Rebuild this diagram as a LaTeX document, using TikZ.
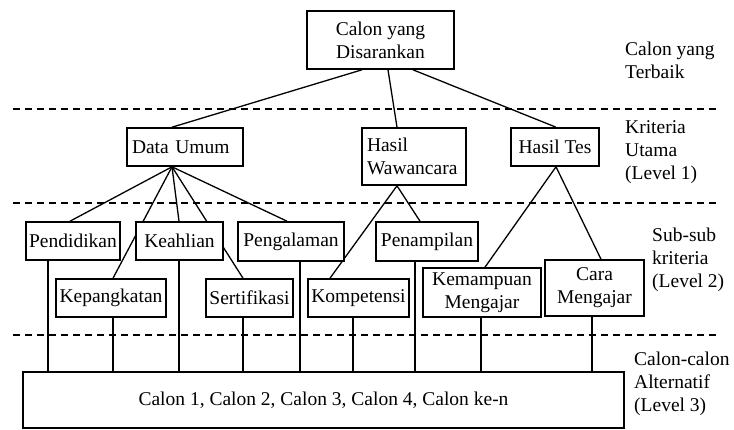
\documentclass[tikz,border=0pt]{standalone}
\usepackage{fontspec}
\setmainfont{Liberation Serif}
\usepackage{tikz}
\usetikzlibrary{positioning,backgrounds}

\begin{document}
\begin{tikzpicture}[x=1pt, y=-1pt,
	kotak/.style={draw, fill=white, line width=1.6pt, inner sep=0pt,
		font=\fontsize{19.5pt}{23pt}\selectfont},
	garis/.style={line width=1.3pt},
	batas/.style={line width=1.3pt, dash pattern=on 7pt off 5pt},
	keterangan/.style={anchor=west, align=left, inner sep=0pt,
		font=\fontsize{19.5pt}{23pt}\selectfont}
]
\useasboundingbox (0,0) rectangle (734,429);

% Calon yang disarankan
\node [kotak,
	minimum width=147pt,
	minimum height=58pt,
	align=center
]  (calon_disarankan) at (380.5,40) {Calon yang\\Disarankan};

% Kriteria utama
\node [kotak,
	text width=106pt,
	inner xsep=5pt,
	minimum height=38pt,
	align=left
]  (data_umum) at (185,147) {Data Umum};
\node [kotak,
	text width=94pt,
	inner xsep=5pt,
	minimum height=57pt,
	align=left
]  (hasil_wawancara) at (414,156.5) {Hasil\\Wawancara};
\node [kotak,
	minimum width=88pt,
	minimum height=38pt,
	align=center
]  (hasil_tes) at (555,147) {Hasil Tes};

% Sub-sub kriteria
\node [kotak,
	minimum width=94pt,
	minimum height=38pt
]  (pendidikan) at (73,241) {Pendidikan};
\node [kotak,
	minimum width=87pt,
	minimum height=38pt
]  (keahlian) at (179.5,241) {Keahlian};
\node [kotak,
	minimum width=106pt,
	minimum height=39pt
]  (pengalaman) at (291,241.5) {Pengalaman};
\node [kotak,
	minimum width=102pt,
	minimum height=39pt
]  (penampilan) at (427,241.5) {Penampilan};
\node [kotak,
	minimum width=110pt,
	minimum height=38pt
]  (kepangkatan) at (111,298) {Kepangkatan};
\node [kotak,
	minimum width=87pt,
	minimum height=38pt
]  (sertifikasi) at (249.5,298) {Sertifikasi};
\node [kotak,
	minimum width=101pt,
	minimum height=38pt
]  (kompetensi) at (358.5,298) {Kompetensi};
\node [kotak,
	minimum width=118pt,
	minimum height=49pt,
	align=center
]  (kemampuan_mengajar) at (482,292.5) {Kemampuan\\Mengajar};
\node [kotak,
	minimum width=99pt,
	minimum height=56pt,
	align=center
]  (cara_mengajar) at (594.5,288) {Cara\\Mengajar};

% Calon alternatif
\node [kotak,
	minimum width=601pt,
	minimum height=56pt
]  (calon_alternatif) at (323.5,400) {Calon 1, Calon 2, Calon 3, Calon 4, Calon ke-n};

% Keterangan level
\node [keterangan] (label_terbaik) at (625,60.5) {Calon yang\\Terbaik};
\node [keterangan] (label_level1) at (625,152) {Kriteria\\Utama\\(Level 1)};
\node [keterangan] (label_level2) at (652,260) {Sub-sub\\kriteria\\(Level 2)};
\node [keterangan] (label_level3) at (634,384) {Calon-calon\\Alternatif\\(Level 3)};

% Batas level
\draw[batas] (13,109) -- (716,109);
\draw[batas] (13,203) -- (716,203);
\draw[batas] (13,335) -- (716,335);

\begin{pgfonlayer}{background}
% Garis hubungan
\draw[garis] ([xshift=-18.5pt] calon_disarankan.south) -- ([xshift=-13pt] data_umum.north);
\draw[garis] ([xshift=7.5pt] calon_disarankan.south) -- ([xshift=-17pt] hasil_wawancara.north);
\draw[garis] ([xshift=32.5pt] calon_disarankan.south) -- ([xshift=1pt] hasil_tes.north);

\draw[garis] ([xshift=-13pt] data_umum.south) -- ([xshift=-3pt] pendidikan.north);
\draw[garis] ([xshift=-13pt] data_umum.south) -- ([xshift=2pt] kepangkatan.north);
\draw[garis] ([xshift=-13pt] data_umum.south) -- ([xshift=-0.5pt] keahlian.north);
\draw[garis] ([xshift=-13pt] data_umum.south) -- ([xshift=-6.5pt] sertifikasi.north);
\draw[garis] ([xshift=-13pt] data_umum.south) -- ([xshift=-4pt] pengalaman.north);

\draw[garis] ([xshift=-17pt] hasil_wawancara.south) -- ([xshift=-28.5pt] kompetensi.north);
\draw[garis] ([xshift=-17pt] hasil_wawancara.south) -- ([xshift=-7pt] penampilan.north);

\draw[garis] ([xshift=1pt] hasil_tes.south) -- ([xshift=3pt] kemampuan_mengajar.north);
\draw[garis] ([xshift=1pt] hasil_tes.south) -- ([xshift=6.5pt] cara_mengajar.north);

\draw[garis] ([xshift=-25pt] pendidikan.south) -- ([xshift=-25pt] pendidikan.south |- calon_alternatif.north);
\draw[garis] ([xshift=2pt] kepangkatan.south) -- ([xshift=2pt] kepangkatan.south |- calon_alternatif.north);
\draw[garis] ([xshift=-0.5pt] keahlian.south) -- ([xshift=-0.5pt] keahlian.south |- calon_alternatif.north);
\draw[garis] ([xshift=-6.5pt] sertifikasi.south) -- ([xshift=-6.5pt] sertifikasi.south |- calon_alternatif.north);
\draw[garis] ([xshift=9pt] pengalaman.south) -- ([xshift=9pt] pengalaman.south |- calon_alternatif.north);
\draw[garis] ([xshift=-5.5pt] kompetensi.south) -- ([xshift=-5.5pt] kompetensi.south |- calon_alternatif.north);
\draw[garis] ([xshift=-12pt] penampilan.south) -- ([xshift=-12pt] penampilan.south |- calon_alternatif.north);
\draw[garis] ([xshift=-1pt] kemampuan_mengajar.south) -- ([xshift=-1pt] kemampuan_mengajar.south |- calon_alternatif.north);
\draw[garis] ([xshift=-2.5pt] cara_mengajar.south) -- ([xshift=-2.5pt] cara_mengajar.south |- calon_alternatif.north);
\end{pgfonlayer}

\end{tikzpicture}
\end{document}
